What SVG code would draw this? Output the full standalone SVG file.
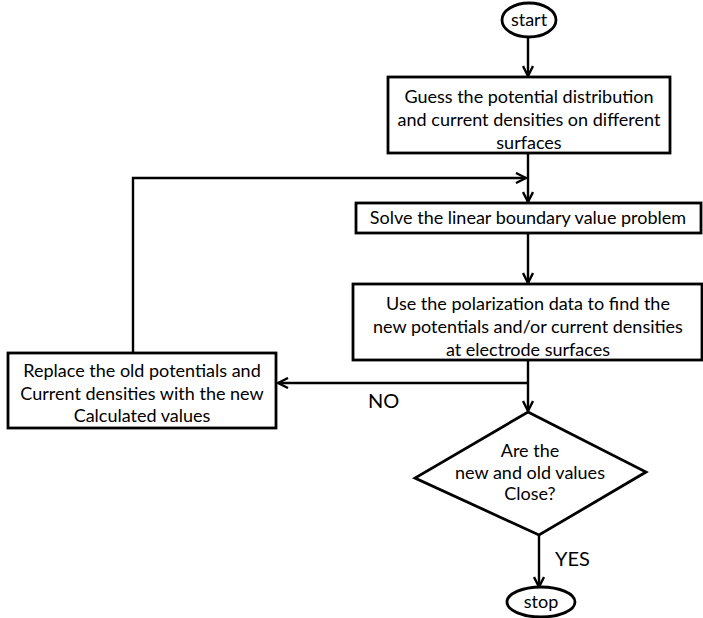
<svg xmlns="http://www.w3.org/2000/svg" width="703" height="618" viewBox="0 0 703 618">
<style>
.n{fill:#fff;stroke:#000;stroke-width:2.8}
.t{font-family:Lato,"Open Sans",sans-serif;font-size:18px;fill:#000;text-anchor:middle}
.l{font-family:Lato,"Open Sans",sans-serif;font-size:20px;fill:#000}
.c{fill:none;stroke:#000;stroke-width:2.4}
</style>
<defs>
<marker id="ah" viewBox="0 0 12 12" refX="11" refY="6" markerWidth="12" markerHeight="12" markerUnits="userSpaceOnUse" orient="auto">
<path d="M1,1 L11,6 L1,11" fill="none" stroke="#000" stroke-width="2.4"/>
</marker>
</defs>
<rect width="703" height="618" fill="#fff"/>
<g id="connectors">
<line class="c" x1="528" y1="37" x2="528" y2="76" marker-end="url(#ah)"/>
<line class="c" x1="528" y1="153" x2="528" y2="202" marker-end="url(#ah)"/>
<polyline class="c" points="133,353 133,178 526,178" marker-end="url(#ah)"/>
<line class="c" x1="528" y1="233" x2="528" y2="283" marker-end="url(#ah)"/>
<line class="c" x1="528" y1="360" x2="528" y2="411" marker-end="url(#ah)"/>
<line class="c" x1="528" y1="383" x2="278" y2="383" marker-end="url(#ah)"/>
<line class="c" x1="539" y1="535" x2="539" y2="587" marker-end="url(#ah)"/>
<text class="l" x="368" y="408">NO</text>
<text class="l" x="555" y="566">YES</text>
</g>
<g id="start">
<ellipse class="n" cx="529" cy="20" rx="27" ry="17"/>
<text class="t" x="529" y="26">start</text>
</g>
<g id="guess">
<rect class="n" x="388" y="77" width="282" height="76"/>
<text class="t" x="529" y="103">Guess the potential distribution</text>
<text class="t" x="529" y="126">and current densities on different</text>
<text class="t" x="529" y="149">surfaces</text>
</g>
<g id="solve">
<rect class="n" x="356" y="203" width="345" height="30"/>
<text class="t" x="528" y="224">Solve the linear boundary value problem</text>
</g>
<g id="polar">
<rect class="n" x="353" y="284" width="349" height="76"/>
<text class="t" x="528" y="310">Use the polarization data to find the</text>
<text class="t" x="528" y="333">new potentials and/or current densities</text>
<text class="t" x="528" y="356">at electrode surfaces</text>
</g>
<g id="replace">
<rect class="n" x="8" y="353" width="268" height="75"/>
<text class="t" x="142" y="377">Replace the old potentials and</text>
<text class="t" x="142" y="400">Current densities with the new</text>
<text class="t" x="142" y="422">Calculated values</text>
</g>
<g id="decision">
<polygon class="n" points="528,412 646,472 539,535 415,478"/>
<text class="t" x="530" y="457">Are the</text>
<text class="t" x="530" y="479">new and old values</text>
<text class="t" x="530" y="500">Close?</text>
</g>
<g id="stop">
<ellipse class="n" cx="541" cy="602" rx="34" ry="15"/>
<text class="t" x="541" y="608">stop</text>
</g>
</svg>
